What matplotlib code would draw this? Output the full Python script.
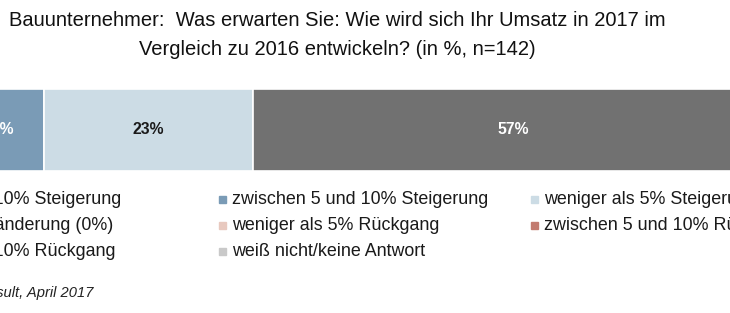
import matplotlib.pyplot as plt
from matplotlib.patches import Rectangle

# data
categories = ["mehr als 10% Steigerung", "zwischen 5 und 10% Steigerung",
              "weniger als 5% Steigerung", "keine Veränderung (0%)",
              "weniger als 5% Rückgang", "zwischen 5 und 10% Rückgang",
              "mehr als 10% Rückgang", "weiß nicht/keine Antwort"]
values = [5, 10, 23, 57, 3, 1, 0, 1]
colors = ["#3E6685", "#7A9BB6", "#CCDCE5", "#717171",
          "#E8C9BF", "#C27B6F", "#8E3B30", "#C9C9C9"]
label_colors = ["white", "white", "#1A1A1A", "white",
                "#1A1A1A", "white", "white", "#1A1A1A"]

TITLE = ("Bauunternehmer:  Was erwarten Sie: Wie wird sich Ihr Umsatz in 2017 im\n"
         "Vergleich zu 2016 entwickeln? (in %, n=142)")
SOURCE = "Quelle: Consult, April 2017"

plt.rcParams["font.family"] = ["Liberation Sans", "DejaVu Sans"]

W, H = 730, 313
fig = plt.figure(figsize=(W / 100, H / 100), dpi=100)
fig.patch.set_facecolor("white")

# bar axes (the chart is cropped on both sides)
px_per = 9.12
left_val = values[0] + 47.5 / px_per
right_val = left_val + W / px_per
ax = fig.add_axes([0, 1 - 171 / H, 1, 82 / H])
ax.set_xlim(left_val, right_val)
ax.set_ylim(-0.5, 0.5)
ax.axis("off")

start = 0
for v, c, tc in zip(values, colors, label_colors):
    if v > 0:
        ax.barh(0, v, left=start, height=1.0, color=c,
                edgecolor="white", linewidth=1.2)
        # only label segments that reach into the visible part
        if start < right_val and start + v > left_val:
            ax.text(start + v / 2, 0, f"{v}%", ha="center", va="center",
                    fontsize=11.3, fontweight="bold", color=tc)
    start += v

fig.text(337 / W, 1 - 35 / H, TITLE, ha="center", va="center",
         fontsize=14.5, linespacing=1.7, color="#111111")

# legend (3 columns, row-major, fixed column width)
for i, (lab, c) in enumerate(zip(categories, colors)):
    row, col = divmod(i, 3)
    x = -93 + col * 312
    y = 199 + row * 26
    fig.patches.append(Rectangle((x / W, 1 - (y + 3.5) / H), 7 / W, 7 / H,
                                 transform=fig.transFigure, color=c))
    fig.text((x + 13) / W, 1 - y / H, lab, ha="left", va="center",
             fontsize=12.9, color="#1A1A1A")

fig.text(93 / W, 1 - 293 / H, SOURCE, ha="right", va="center",
         fontsize=10.6, style="italic", color="#222222")

fig.savefig("out.png", dpi=100, facecolor="white")
